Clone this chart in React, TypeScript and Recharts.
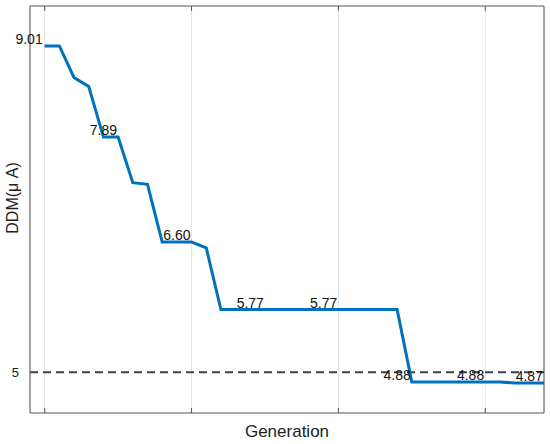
import React from 'react';
import {
  ComposedChart,
  Line,
  Scatter,
  XAxis,
  YAxis,
  CartesianGrid,
  ReferenceLine,
  ReferenceArea,
} from 'recharts';

// best DDM value per generation
const generations = [
  0, 1, 2, 3, 4, 5, 6, 7, 8, 9, 10, 11, 12, 13, 14, 15, 16, 17, 18, 19, 20, 21, 22, 23, 24, 25, 26, 27,
  28, 29, 30, 31, 32, 33, 34,
];
const ddmValues = [
  9.01, 9.01, 8.62, 8.51, 7.89, 7.89, 7.33, 7.31, 6.6, 6.6, 6.6, 6.53, 5.77, 5.77, 5.77, 5.77, 5.77, 5.77,
  5.77, 5.77, 5.77, 5.77, 5.77, 5.77, 5.77, 4.88, 4.88, 4.88, 4.88, 4.88, 4.88, 4.88, 4.87, 4.87, 4.87,
];

// text annotations placed on the plot
const labelGens = [0, 4, 9, 14, 19, 24, 29, 33];
const labelValues = [9.01, 7.89, 6.6, 5.77, 5.77, 4.88, 4.88, 4.87];
const labelTexts = ['9.01', '7.89', '6.60', '5.77', '5.77', '4.88', '4.88', '4.87'];

const xTicks = [0, 10, 20, 30];
const yTicks = [5];
const targetValue = 5;
const xDomain: [number, number] = [-1, 34];
const yDomain: [number, number] = [4.5, 9.5];

const AXIS_COLOR = '#555555';
const LINE_COLOR = '#0072BD';
const FONT = '"Liberation Sans", Arial, sans-serif';

const data = generations.map((gen, i) => ({ gen, ddm: ddmValues[i] }));
const labels = labelGens.map((gen, i) => ({
  gen,
  value: labelValues[i],
  text: labelTexts[i],
  anchor: i === 0 ? 'end' : 'middle',
}));

const XTick = (props: any) => {
  const { x, y } = props;
  return <line x1={x} x2={x} y1={y} y2={y - 5} stroke={AXIS_COLOR} strokeWidth={1} />;
};

const YTick = (props: any) => {
  const { x, y, payload } = props;
  return (
    <g>
      <line x1={x} x2={x + 5} y1={y} y2={y} stroke={AXIS_COLOR} strokeWidth={1} />
      <text x={x - 11} y={y} dy={4.5} textAnchor="end" fontSize={13} fill="#222" fontFamily={FONT}>
        {payload.value}
      </text>
    </g>
  );
};

const LabelShape = (props: any) => {
  const { cx, cy, payload } = props;
  const isEnd = payload.anchor === 'end';
  return (
    <text
      x={isEnd ? cx - 2 : cx}
      y={cy - 2}
      textAnchor={payload.anchor}
      fontSize={14}
      fill="#111"
      fontFamily={FONT}
    >
      {payload.text}
    </text>
  );
};

const App = () => (
  <div style={{ position: 'absolute', left: 0, top: 0, background: '#fff' }}>
    <ComposedChart width={550} height={444} data={data} margin={{ top: 6, right: 6, left: 0, bottom: 0 }}>
      <CartesianGrid horizontal={false} vertical stroke="#e3e3e3" strokeWidth={1} />
      <XAxis
        dataKey="gen"
        type="number"
        domain={xDomain}
        ticks={xTicks}
        height={31}
        axisLine={false}
        tickLine={false}
        tickSize={0}
        tickMargin={0}
        tick={<XTick />}
        label={{
          content: () => (
            <text x={287} y={437} textAnchor="middle" fontSize={17} fill="#222" fontFamily={FONT}>
              Generation
            </text>
          ),
        }}
      />
      <YAxis
        type="number"
        domain={yDomain}
        ticks={yTicks}
        width={30}
        axisLine={false}
        tickLine={false}
        tickSize={0}
        tickMargin={0}
        tick={<YTick />}
        label={{
          content: () => (
            <text
              x={13}
              y={198}
              transform="rotate(-90 13 198)"
              dy={5}
              textAnchor="middle"
              fontSize={16}
              fill="#222"
              fontFamily={FONT}
            >
              DDM(μ A)
            </text>
          ),
        }}
      />
      <ReferenceArea
        x1={xDomain[0]}
        x2={xDomain[1]}
        y1={yDomain[0]}
        y2={yDomain[1]}
        fill="none"
        stroke={AXIS_COLOR}
        strokeWidth={1}
      />
      {xTicks.map((t) => (
        <ReferenceLine
          key={t}
          segment={[
            { x: t, y: yDomain[1] },
            { x: t, y: yDomain[1] - 0.06 },
          ]}
          stroke={AXIS_COLOR}
          strokeWidth={1}
        />
      ))}
      <ReferenceLine y={targetValue} stroke="#404040" strokeWidth={2} strokeDasharray="8 5" />
      <Line
        type="linear"
        dataKey="ddm"
        stroke={LINE_COLOR}
        strokeWidth={3}
        dot={false}
        activeDot={false}
        isAnimationActive={false}
      />
      <Scatter data={labels} dataKey="value" shape={<LabelShape />} isAnimationActive={false} />
    </ComposedChart>
  </div>
);

export default App;
